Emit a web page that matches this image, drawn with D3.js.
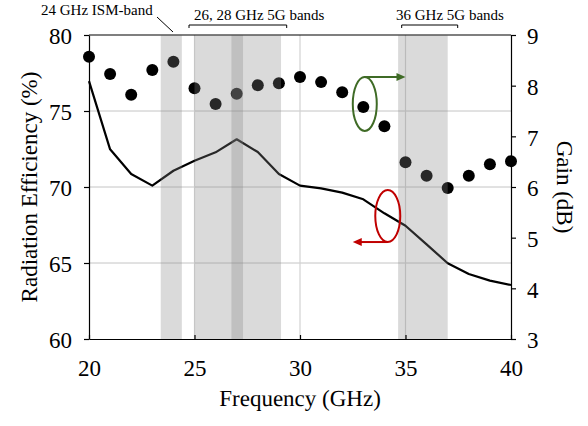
<!DOCTYPE html>
<html><head><meta charset="utf-8">
<script src="https://cdn.jsdelivr.net/npm/d3@7"></script>
<style>body{margin:0;background:#fff}svg{display:block}</style>
</head><body><svg id="c" width="588" height="426"></svg>
<script>
const freq = [20,21,22,23,24,25,26,27,28,29,30,31,32,33,34,35,36,37,38,39,40];
const efficiency = [76.97,72.48,70.86,70.09,71.07,71.73,72.28,73.14,72.30,70.86,70.09,69.91,69.63,69.19,68.27,67.45,66.23,64.98,64.28,63.84,63.55];
const gain = [8.57,8.23,7.82,8.31,8.47,7.95,7.64,7.84,8.01,8.05,8.17,8.07,7.87,7.58,7.20,6.49,6.22,5.98,6.22,6.45,6.51];
const xTicks = [20,25,30,35,40];
const yLeftTicks = [60,65,70,75,80];
const yRightTicks = [3,4,5,6,7,8,9];
const bands = [[23.4,24.4],[25,27.3],[26.75,29.1],[34.65,37.0]];
const brackets = [{label:"26, 28 GHz 5G bands"},{label:"36 GHz 5G bands"}];
const ismLabel = "24 GHz ISM-band";

const W=588,H=426, L=89, R=511, T=35, B=339;
const SERIF='"Times New Roman","Liberation Serif",serif';
const svg=d3.select("#c");
const x=d3.scaleLinear().domain([20,40]).range([L,R]);
const yL=d3.scaleLinear().domain([60,80]).range([B,T]);
const yR=d3.scaleLinear().domain([3,9]).range([B,T]);

// gridlines
svg.append("g").selectAll("line").data([65,70,75]).join("line")
  .attr("x1",L).attr("x2",R).attr("y1",d=>yL(d)).attr("y2",d=>yL(d))
  .attr("stroke","#c4c4c4").attr("stroke-width",1);
svg.append("g").selectAll("line").data([25,30,35]).join("line")
  .attr("x1",d=>x(d)).attr("x2",d=>x(d)).attr("y1",T).attr("y2",B)
  .attr("stroke","#d2d2d2").attr("stroke-width",1.2);

// efficiency line
svg.append("path").datum(freq.map((f,i)=>[f,efficiency[i]]))
  .attr("d",d3.line().x(d=>x(d[0])).y(d=>yL(d[1])))
  .attr("fill","none").attr("stroke","#000").attr("stroke-width",2.2).attr("stroke-linejoin","round");

// gain dots
svg.append("g").selectAll("circle").data(freq.map((f,i)=>[f,gain[i]])).join("circle")
  .attr("cx",d=>x(d[0])).attr("cy",d=>yR(d[1])).attr("r",6).attr("fill","#000");

// bands overlay
svg.append("g").selectAll("rect").data(bands).join("rect")
  .attr("x",d=>x(d[0])).attr("width",d=>x(d[1])-x(d[0])).attr("y",T+0.5).attr("height",B-T-0.5)
  .attr("fill","#838383").attr("fill-opacity",0.3);

// axes
const fs=23;
const fmt=d3.format("d");
const gx=svg.append("g").attr("transform",`translate(0,${B})`)
  .call(d3.axisBottom(x).tickValues(xTicks).tickFormat(fmt).tickSizeInner(-4).tickSizeOuter(0).tickPadding(21));
const gl=svg.append("g").attr("transform",`translate(${L},0)`)
  .call(d3.axisLeft(yL).tickValues(yLeftTicks).tickFormat(fmt).tickSizeInner(5).tickSizeOuter(0).tickPadding(12));
const gr=svg.append("g").attr("transform",`translate(${R},0)`)
  .call(d3.axisRight(yR).tickValues(yRightTicks).tickFormat(fmt).tickSizeInner(5).tickSizeOuter(0).tickPadding(11));
[gx,gl,gr].forEach(g=>{
  g.attr("font-family",SERIF).attr("font-size",fs);
  g.select(".domain").attr("stroke","#000").attr("stroke-width",1.2);
  g.selectAll(".tick line").attr("stroke","#000").attr("stroke-width",1.2);
  g.selectAll(".tick text").attr("fill","#000").attr("font-family",SERIF).attr("font-size",fs);
});
gl.selectAll(".tick text").attr("dy","0.38em");
gr.selectAll(".tick text").attr("dy","0.38em");
svg.append("line").attr("x1",L).attr("x2",R).attr("y1",T).attr("y2",T).attr("stroke","#000").attr("stroke-width",1.2);

function txt(){ return svg.append("text").attr("font-family",SERIF).attr("fill","#000"); }
// axis titles
txt().attr("transform",`translate(${(L+R)/2},406) rotate(0.05)`).attr("text-anchor","middle").attr("font-size",fs).text("Frequency (GHz)");
txt().attr("transform",`translate(37,${(T+B)/2}) rotate(-90)`).attr("text-anchor","middle").attr("font-size",fs).text("Radiation Efficiency (%)");
txt().attr("transform",`translate(557,${(T+B)/2}) rotate(90)`).attr("text-anchor","middle").attr("font-size",fs).text("Gain (dB)");

// top annotations
txt().attr("x",41).attr("y",15).attr("font-size",15).text(ismLabel);
svg.append("line").attr("x1",157).attr("y1",17).attr("x2",173).attr("y2",32).attr("stroke","#000").attr("stroke-width",1);
const bx=[[189,286.7],[401.7,457.7]];
bx.forEach(b=>{
  svg.append("path").attr("d",`M${b[0]},28V25H${b[1]}V28`).attr("fill","none").attr("stroke","#000").attr("stroke-width",1);
});
txt().attr("x",194).attr("y",20).attr("font-size",15).text(brackets[0].label);
txt().attr("x",396).attr("y",20).attr("font-size",15).text(brackets[1].label);

// legend ellipses with arrows
function marker(cx,cy,rx,ry,color,ax1,ay,ax2){
  svg.append("ellipse").attr("cx",cx).attr("cy",cy).attr("rx",rx).attr("ry",ry)
    .attr("fill","none").attr("stroke",color).attr("stroke-width",2);
  svg.append("line").attr("x1",ax1).attr("x2",ax2+(ax2>ax1?-7:7)).attr("y1",ay).attr("y2",ay).attr("stroke",color).attr("stroke-width",2);
  const d=ax2>ax1?-1:1;
  svg.append("path").attr("d",`M${ax2},${ay}L${ax2+d*9},${ay-4}L${ax2+d*9},${ay+4}Z`).attr("fill",color);
}
marker(x(33.07),yR(7.64),12,27,"#3f6b26",x(33.07)-1,yR(7.64)-27,x(35.0));
marker(x(34.16),yL(68.09),12.5,26,"#c00000",x(34.16),yL(68.09)+26,x(32.5));
</script></body></html>
